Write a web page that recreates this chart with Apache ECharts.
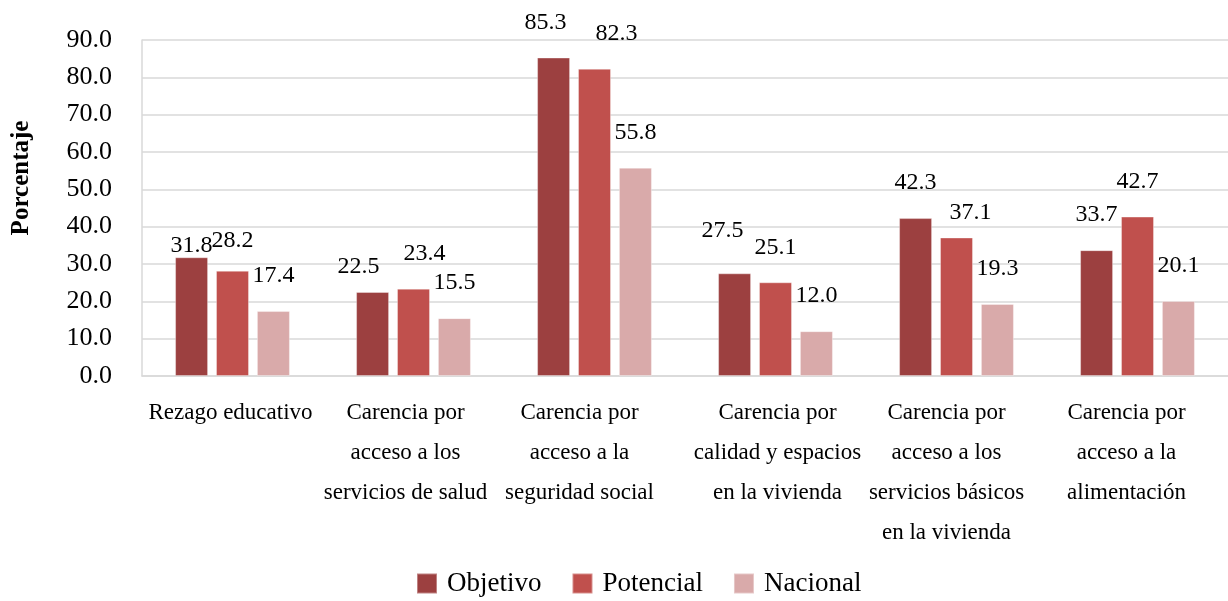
<!DOCTYPE html>
<html>
<head>
<meta charset="utf-8">
<script src="https://cdn.jsdelivr.net/npm/echarts@6/dist/echarts.min.js"></script>
<style>html,body{margin:0;padding:0;background:#fff}#c{width:1228px;height:601px}</style>
</head>
<body>
<div id="c"></div>
<script>
const categories = [
  'Rezago educativo',
  'Carencia por\nacceso a los\nservicios de salud',
  'Carencia por\nacceso a la\nseguridad social',
  'Carencia por\ncalidad y espacios\nen la vivienda',
  'Carencia por\nacceso a los\nservicios básicos\nen la vivienda',
  'Carencia por\nacceso a la\nalimentación'
];
const seriesNames = ['Objetivo', 'Potencial', 'Nacional'];
const objetivo = [31.8, 22.5, 85.3, 27.5, 42.3, 33.7];
const potencial = [28.2, 23.4, 82.3, 25.1, 37.1, 42.7];
const nacional = [17.4, 15.5, 55.8, 12.0, 19.3, 20.1];
const yTicks = { min: 0, max: 90, interval: 10 };
const yAxisTitle = 'Porcentaje';

// styling only: data-label nudges [series-category] -> [dx, dy]
const labelNudges = {
  '0-0': [0, 23], '1-0': [0, 5], '0-1': [-14, 10], '1-1': [11, 0],
  '0-2': [-8, 0], '1-2': [22, 0], '0-3': [-12, -8], '1-4': [14, 10]
};
// styling only: horizontal shift of category labels (px)
const catShift = [-2, -8, -15, 2, -10, -11];
const colors = ['#9c4040', '#c0504d', '#d9aaaa'];
const FONT = '"Liberation Serif", "Times New Roman", serif';

const allValues = [objetivo, potencial, nacional];
const series = allValues.map((vals, si) => ({
  name: seriesNames[si],
  type: 'bar',
  barWidth: 33,
  barGap: '24%',
  itemStyle: { color: colors[si], borderColor: 'rgba(255,255,255,0.35)', borderWidth: 1 },
  label: {
    show: true, position: 'top', distance: 23,
    fontFamily: FONT, fontSize: 24, color: '#000',
    formatter: p => p.value.toFixed(1)
  },
  data: vals.map((v, ci) => {
    const n = labelNudges[si + '-' + ci];
    return n ? { value: v, label: { offset: n } } : v;
  })
}));

const xData = categories.map((c, i) => {
  const s = catShift[i];
  return { value: c, textStyle: { padding: s < 0 ? [0, -2 * s, 0, 0] : [0, 0, 0, 2 * s] } };
});

const chart = echarts.init(document.getElementById('c'));
chart.setOption({
  animation: false,
  textStyle: { fontFamily: FONT },
  grid: { left: 142, right: -12, top: 40, bottom: 225, containLabel: false },
  legend: {
    bottom: -1, left: 411,
    itemWidth: 20, itemHeight: 20, itemGap: 30,
    icon: 'rect',
    textStyle: { fontFamily: FONT, fontSize: 27, color: '#000', padding: [0, 0, 0, 5] },
    data: seriesNames
  },
  graphic: [{
    type: 'text', x: 22, y: 178, rotation: Math.PI / 2,
    style: { text: yAxisTitle, fontFamily: FONT, fontSize: 25, fontWeight: 'bold', fill: '#000', align: 'center', verticalAlign: 'middle' }
  }],
  xAxis: {
    type: 'category', data: xData,
    axisLine: { show: true, lineStyle: { color: '#d9d9d9', width: 1.5 } },
    axisTick: { show: false },
    axisLabel: { interval: 0, margin: 17, fontFamily: FONT, fontSize: 23, lineHeight: 40, color: '#000' }
  },
  yAxis: {
    type: 'value', min: yTicks.min, max: yTicks.max, interval: yTicks.interval,
    axisLine: { show: true, lineStyle: { color: '#d9d9d9', width: 1.5 } },
    axisTick: { show: false },
    splitLine: { lineStyle: { color: '#d9d9d9', width: 1.5 } },
    axisLabel: { margin: 30, fontFamily: FONT, fontSize: 26, color: '#000', formatter: v => v.toFixed(1) }
  },
  series: series
});
</script>
</body>
</html>
